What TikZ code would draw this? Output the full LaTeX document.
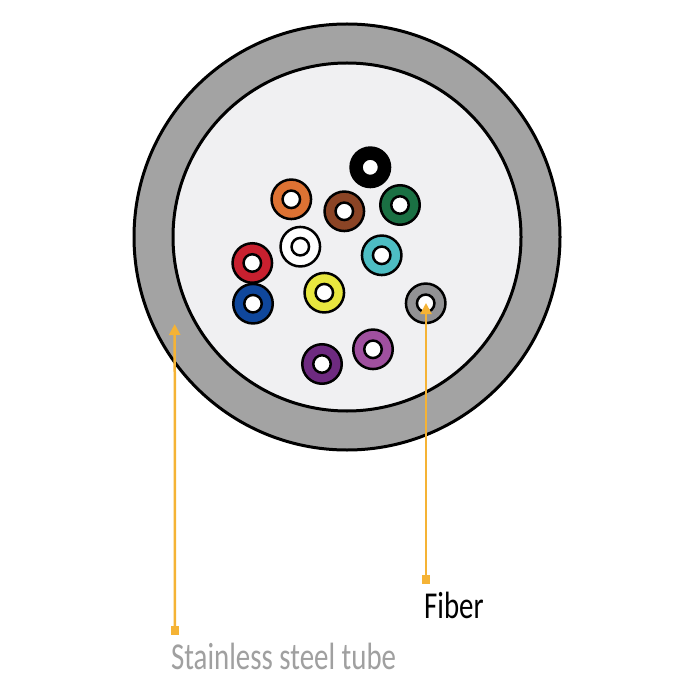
\documentclass[tikz,border=0pt]{standalone}
\usepackage{fontspec}
\setmainfont{Carlito}
\usetikzlibrary{arrows.meta}
\definecolor{tubegray}{HTML}{A3A3A3}
\definecolor{innerfill}{HTML}{F0F0F2}
\definecolor{leader}{HTML}{F5B335}
\definecolor{labelgray}{HTML}{A0A0A0}
\tikzset{
  tube/.style={circle,draw=black,line width=3pt,inner sep=0pt,outer sep=0pt,minimum size=#1},
  fibre/.style={circle,draw=black,line width=2.5pt,fill=#1,inner sep=0pt,outer sep=0pt,minimum size=39.5pt},
  core/.style={circle,draw=black,line width=2.5pt,fill=white,inner sep=0pt,outer sep=0pt,minimum size=17.5pt},
  foot/.style={rectangle,fill=leader,inner sep=0pt,minimum size=8.5pt},
  leaderline/.style={draw=leader,line width=2.5pt,-{Triangle[length=11pt,width=11pt]}},
  labeltext/.style={inner sep=0pt,font=\fontsize{#1}{#1}\selectfont}
}
\newcommand{\fibreat}[3]{%
  \node[fibre=#3] (f#3) at (#1,#2) {};
  \node[core] (c#3) at (#1,#2) {};}
\begin{document}
\begin{tikzpicture}[x=1pt,y=-1pt]
\useasboundingbox (0,0) rectangle (700,700);
\fill[white] (0,0) rectangle (700,700);
\node[tube=426pt,fill=tubegray] (outer) at (347,237) {};
\node[tube=348pt,fill=innerfill] (inner) at (347,237) {};
\definecolor{fblack}{HTML}{000000}
\definecolor{forange}{HTML}{DD7233}
\definecolor{fbrown}{HTML}{8B4425}
\definecolor{fgreen}{HTML}{1A7043}
\definecolor{fwhite}{HTML}{FFFFFF}
\definecolor{fcyan}{HTML}{4DBDC3}
\definecolor{fred}{HTML}{C8202F}
\definecolor{fyellow}{HTML}{E8E73F}
\definecolor{fblue}{HTML}{0F479C}
\definecolor{fgray}{HTML}{929294}
\definecolor{fmagenta}{HTML}{A0509F}
\definecolor{fpurple}{HTML}{6E2A80}
\fibreat{370.3}{167.3}{fblack}
\fibreat{291.3}{199.3}{forange}
\fibreat{344.3}{211.3}{fbrown}
\fibreat{400}{205}{fgreen}
\fibreat{300.3}{246.7}{fwhite}
\fibreat{381.7}{255.3}{fcyan}
\fibreat{252.3}{263}{fred}
\fibreat{253}{303.7}{fblue}
\fibreat{324.3}{292.7}{fyellow}
\fibreat{425.7}{303.3}{fgray}
\fibreat{373}{349.3}{fmagenta}
\fibreat{322}{364}{fpurple}
\coordinate (tubepoint) at (174.7,324);
\coordinate (fibrepoint) at (426,303);
\node[foot] (tubefoot) at (175,630.5) {};
\node[foot] (fibrefoot) at (426,579.5) {};
\draw[leaderline] (tubefoot.center) -- (tubepoint);
\draw[leaderline] (fibrefoot.center) -- (fibrepoint);
\node[labeltext=38,text=labelgray,anchor=base west,xscale=0.76] (tubelabel) at (171,669) {Stainless steel tube};
\node[labeltext=38,text=black,anchor=base west,xscale=0.76] (fibrelabel) at (424,618) {Fiber};
\end{tikzpicture}
\end{document}
